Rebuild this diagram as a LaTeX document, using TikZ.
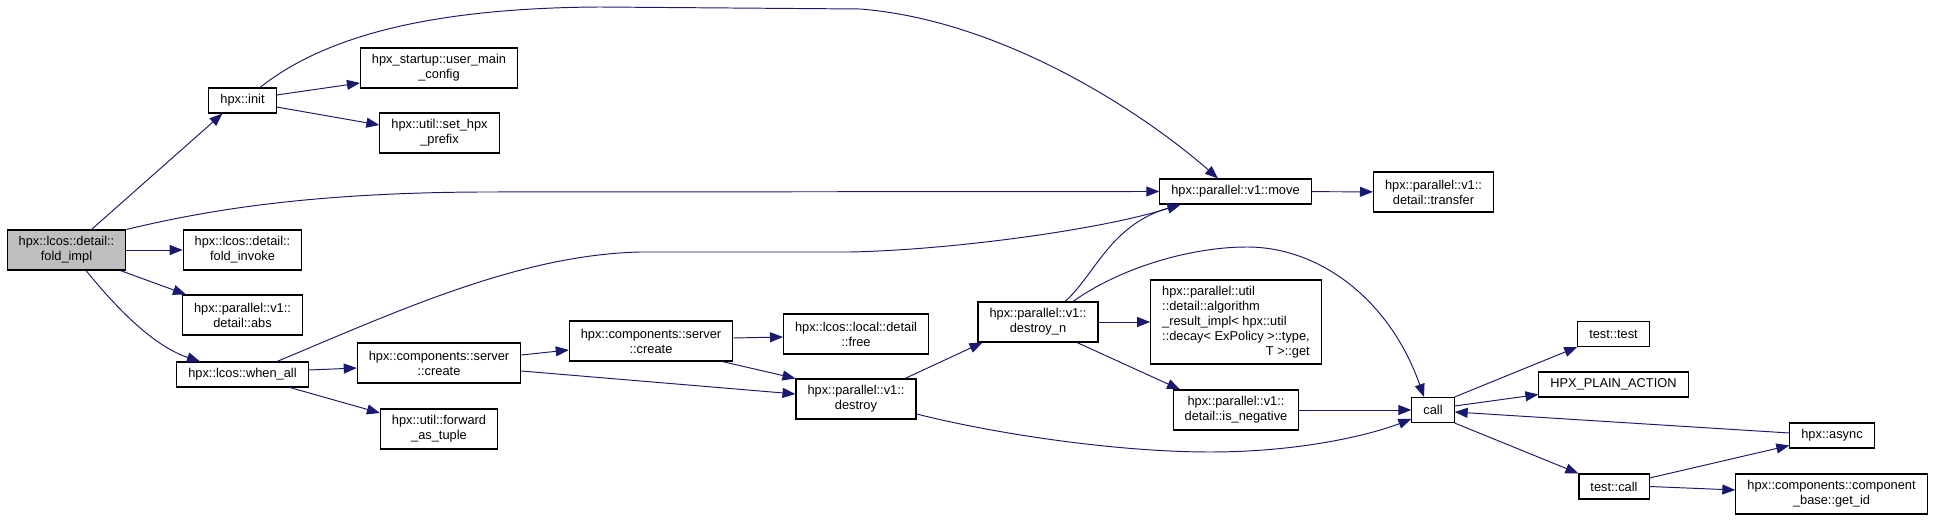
\documentclass[tikz,border=0pt]{standalone}
\usepackage{fontspec}
\setmainfont{Liberation Sans}
\usepackage{tikz}
\usetikzlibrary{arrows.meta}
\definecolor{linkblue}{HTML}{191970}
\definecolor{focusgray}{HTML}{BFBFBF}
\tikzset{
  fn/.style={draw=black, line width=0.6pt, fill=white, align=center, inner xsep=0.23cm, inner ysep=0.1cm, minimum height=0.5cm, font=\fontsize{7.3}{8.6}\selectfont},
  fntwo/.style={fn, minimum height=0.8cm}
}

\begin{document}
\begin{tikzpicture}[
    link/.style={-{Triangle[length=0.26cm, width=0.2cm]}, line width=0.55pt, linkblue},
    focus/.style={fntwo, fill=focusgray}
  ]
    \path[use as bounding box] (0,0) rectangle (38.70,-10.40);
    \node[focus] (root) at (1.33,-5.00) {hpx::lcos::detail::\\fold\_impl};
    \node[fn] (init) at (4.85,-2.01) {hpx::init};
    \node[fntwo] (inv) at (4.85,-5.00) {hpx::lcos::detail::\\fold\_invoke};
    \node[fntwo] (abs) at (4.85,-6.30) {hpx::parallel::v1::\\detail::abs};
    \node[fn] (wall) at (4.85,-7.49) {hpx::lcos::when\_all};
    \node[fntwo] (umc) at (8.78,-1.36) {hpx\_startup::user\_main\\\_config};
    \node[fntwo] (shp) at (8.79,-2.66) {hpx::util::set\_hpx\\\_prefix};
    \node[fntwo] (cr1) at (8.78,-7.26) {hpx::components::server\\::create};
    \node[fntwo] (fwd) at (8.78,-8.58) {hpx::util::forward\\\_as\_tuple};
    \node[fntwo] (cr2) at (13.02,-6.82) {hpx::components::server\\::create};
    \node[fntwo] (free) at (17.12,-6.68) {hpx::lcos::local::detail\\::free};
    \node[fntwo] (dst) at (17.12,-7.98) {hpx::parallel::v1::\\destroy};
    \node[fntwo] (dn) at (20.76,-6.44) {hpx::parallel::v1::\\destroy\_n};
    \node[fn] (move) at (24.71,-3.83) {hpx::parallel::v1::move};
    \node[fn, align=left, minimum height=1.68cm] (algo) at (24.72,-6.44) {hpx::parallel::util\\::detail::algorithm\\\_result\_impl< hpx::util\\::decay< ExPolicy >::type,\\\hfill T >::get\hfill};
    \node[fntwo] (isn) at (24.72,-8.20) {hpx::parallel::v1::\\detail::is\_negative};
    \node[fntwo] (trf) at (28.67,-3.84) {hpx::parallel::v1::\\detail::transfer};
    \node[fn] (call) at (28.66,-8.20) {call};
    \node[fn] (tt) at (32.27,-6.68) {test::test};
    \node[fn] (pa) at (32.27,-7.69) {HPX\_PLAIN\_ACTION};
    \node[fn] (tc) at (32.28,-9.73) {test::call};
    \node[fn] (async) at (36.64,-8.71) {hpx::async};
    \node[fntwo] (gid) at (36.63,-9.88) {hpx::components::component\\\_base::get\_id};

    % fold_impl
    \draw[link] ([xshift=0.5cm]root.north) -- ([xshift=-0.4cm]init.south);
    \draw[link] (root.north east) .. controls (4.0,-4.24) and (6.0,-3.86) .. (9.6,-3.84) -- (move.west);
    \draw[link] (root) -- (inv);
    \draw[link] ([xshift=-0.12cm]root.south east) -- ([xshift=0.08cm]abs.north west);
    \draw[link] ([xshift=0.39cm]root.south) .. controls (2.2,-6.0) and (3.0,-6.9) .. ([xshift=-0.85cm]wall.north);

    % init
    \draw[link] ([xshift=0.35cm]init.north) .. controls (6.4,-0.8) and (8.4,-0.16) .. (12.0,-0.14) -- (17.2,-0.18) .. controls (20.0,-0.4) and (22.8,-2.2) .. ([xshift=-0.35cm]move.north);
    \draw[link] ([yshift=0.11cm]init.east) -- ([yshift=-0.3cm]umc.west);
    \draw[link] ([yshift=-0.13cm]init.east) -- ([yshift=0.16cm]shp.west);

    % when_all
    \draw[link] ([xshift=0.69cm]wall.north) .. controls (8.0,-6.2) and (10.4,-5.1) .. (12.8,-5.04) -- (17.0,-5.04) .. controls (19.0,-5.0) and (22.0,-4.6) .. ([xshift=-1.1cm]move.south);
    \draw[link] ([yshift=0.09cm]wall.east) -- ([yshift=-0.1cm]cr1.west);
    \draw[link] ([xshift=0.95cm]wall.south) -- ([yshift=0.32cm]fwd.west);

    % create
    \draw[link] ([yshift=0.16cm]cr1.east) -- ([yshift=-0.18cm]cr2.west);
    \draw[link] ([yshift=-0.16cm]cr1.east) -- ([yshift=0.1cm]dst.west);
    \draw[link] ([yshift=0.06cm]cr2.east) -- ([yshift=-0.06cm]free.west);
    \draw[link] ([xshift=-0.22cm]cr2.south east) -- (dst.north west);

    % destroy
    \draw[link] ([xshift=0.98cm]dst.north) -- ([xshift=0.1cm]dn.south west);
    \draw[link] ([yshift=-0.3cm]dst.east) .. controls (20.0,-8.7) and (22.4,-9.04) .. (24.2,-9.04) .. controls (26.0,-9.04) and (27.4,-8.7) .. ([yshift=-0.18cm]call.west);
    \draw[link] ([xshift=0.54cm]dn.north) .. controls (21.9,-5.5) and (22.2,-4.5) .. ([xshift=-1.1cm]move.south);
    \draw[link] ([xshift=0.7cm]dn.north) .. controls (22.4,-5.36) and (23.8,-4.94) .. (24.94,-4.94) .. controls (26.4,-4.94) and (27.8,-6.0) .. ([xshift=-0.18cm]call.north);
    \draw[link] (dn) -- (algo);
    \draw[link] ([xshift=0.78cm]dn.south) -- ([xshift=-1.12cm]isn.north);
    \draw[link] (isn) -- (call);
    \draw[link] (move) -- (trf);

    % call
    \draw[link] (call.north east) -- (tt.south west);
    \draw[link] ([yshift=0.08cm]call.east) -- ([yshift=-0.2cm]pa.west);
    \draw[link] (call.south east) -- (tc.north west);
    \draw[link] ([yshift=0.05cm]async.west) -- ([yshift=-0.04cm]call.east);
    \draw[link] ([yshift=0.17cm]tc.east) -- ([yshift=-0.2cm]async.west);
    \draw[link] (tc.east) -- ([yshift=0.08cm]gid.west);
  \end{tikzpicture}
\end{document}
